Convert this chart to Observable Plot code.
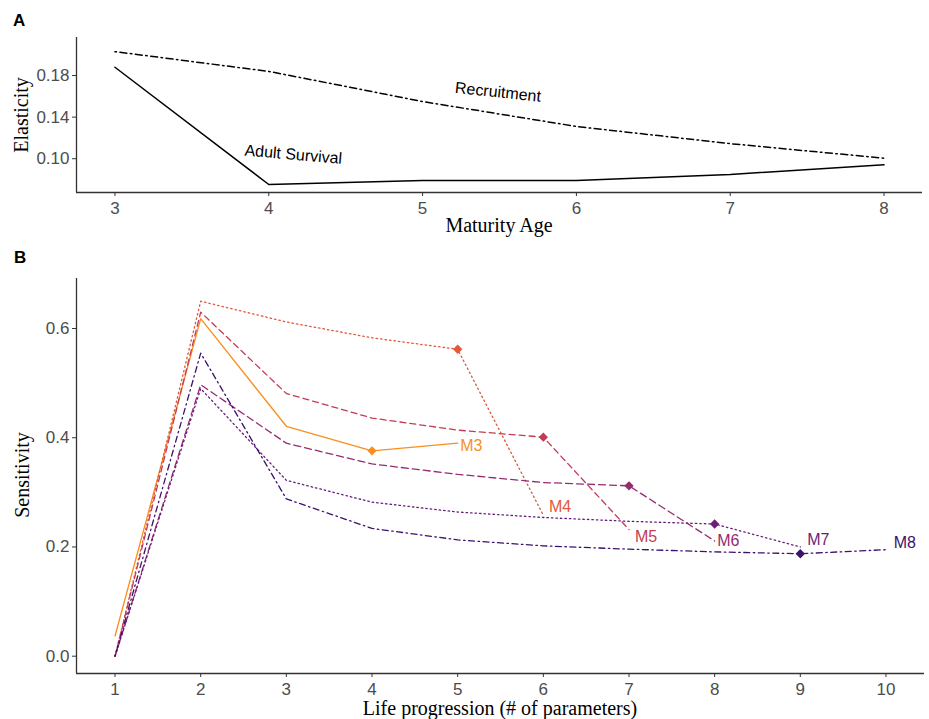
<!DOCTYPE html>
<html>
<head>
<meta charset="utf-8">
<script src="https://cdn.jsdelivr.net/npm/d3@7"></script>
<script src="https://cdn.jsdelivr.net/npm/@observablehq/plot@0.6"></script>
<style>
  html, body { margin: 0; padding: 0; background: #fff; }
  body { width: 929px; height: 719px; position: relative; overflow: hidden; }
  .panel { position: absolute; left: 0; }
  .tag { position: absolute; font-family: "Liberation Sans", Arial, sans-serif; font-weight: bold; font-size: 17px; line-height: 17px; color: #000; }
  .xt { position: absolute; font-family: "Liberation Serif", "Times New Roman", serif; font-size: 20px; line-height: 20px; color: #000; white-space: nowrap; transform: translateX(-50%); }
  .yt { position: absolute; font-family: "Liberation Serif", "Times New Roman", serif; font-size: 20px; line-height: 20px; color: #000; white-space: nowrap; transform: translate(-50%, -50%) rotate(-90deg); }
</style>
</head>
<body>
<div id="a" class="panel" style="top:0"></div>
<div id="b" class="panel" style="top:240px"></div>
<div class="tag" style="left:13px;top:12px">A</div>
<div class="tag" style="left:14px;top:249px">B</div>
<div class="xt" style="left:499px;top:215px">Maturity Age</div>
<div class="yt" style="left:21px;top:115px">Elasticity</div>
<div class="xt" style="left:500px;top:698px">Life progression (# of parameters)</div>
<div class="yt" style="left:22px;top:475px">Sensitivity</div>
<script>
// ---------- Panel A data ----------
const maturityAge = [3, 4, 5, 6, 7, 8];
const recruitment = [0.203, 0.184, 0.155, 0.131, 0.1145, 0.1005];
const adultSurvival = [0.188, 0.0752, 0.079, 0.079, 0.0849, 0.0942];
const panelALabels = ["Recruitment", "Adult Survival"];
const panelALabelX = [5.49, 4.16];
const panelALabelY = [0.164, 0.104];
const panelALabelAngle = [6, 5];
const elasticityTicks = [0.10, 0.14, 0.18];

// ---------- Panel B data ----------
const models = ["M3", "M4", "M5", "M6", "M7", "M8"];
const sensM3 = [0.037, 0.618, 0.421, 0.376, 0.390];
const sensM4 = [0.0, 0.650, 0.612, 0.583, 0.562, 0.258];
const sensM5 = [0.0, 0.630, 0.481, 0.436, 0.414, 0.401, 0.232];
const sensM6 = [0.0, 0.497, 0.390, 0.352, 0.333, 0.318, 0.312, 0.211];
const sensM7 = [0.0, 0.490, 0.322, 0.282, 0.264, 0.254, 0.247, 0.242, 0.200];
const sensM8 = [0.0, 0.555, 0.288, 0.234, 0.213, 0.202, 0.196, 0.191, 0.1876, 0.195];
const maturityStep = [4, 5, 6, 7, 8, 9];
const modelLabelX = [5.03, 6.065, 7.07, 8.03, 9.08, 10.09];
const modelLabelY = [0.385, 0.273, 0.219, 0.211, 0.213, 0.208];
const modelColors = ["#F98E1D", "#E3583A", "#C33C55", "#952C70", "#6A1E7C", "#3D116C"];
const modelDash = [null, "1.5 3", "6 4", "7 4", "1.5 3", "1.5 3.5 6 3.5"];
const progressionTicks = [1, 2, 3, 4, 5, 6, 7, 8, 9, 10];
const sensitivityTicks = [0.0, 0.2, 0.4, 0.6];

const sens = [sensM3, sensM4, sensM5, sensM6, sensM7, sensM8];

const axisStyle = {
  fontFamily: "'Liberation Sans', Arial, sans-serif",
  fontSize: "17px",
  color: "#4d4d4d",
  background: "#fff",
  overflow: "visible"
};
const tickFont = {fontSize: 17, fontFamily: "'Liberation Sans', Arial, sans-serif"};

// ---------- Panel A ----------
const recRows = maturityAge.map((x, i) => ({x, y: recruitment[i]}));
const surRows = maturityAge.map((x, i) => ({x, y: adultSurvival[i]}));
const aLab = panelALabels.map((t, i) => ({t, x: panelALabelX[i], y: panelALabelY[i], r: panelALabelAngle[i]}));
const yA = [0.0675, 0.2166];
const xA = [2.75, 8.25];

const plotA = Plot.plot({
  width: 929, height: 240,
  marginLeft: 76, marginRight: 7, marginTop: 37, marginBottom: 48,
  style: axisStyle,
  x: {domain: xA},
  y: {domain: yA},
  marks: [
    Plot.axisX({ticks: maturityAge, tickFormat: d3.format("d"), tickSize: 4, tickPadding: 5, label: null, stroke: "#333", ...tickFont}),
    Plot.axisY({ticks: elasticityTicks, tickFormat: d3.format(".2f"), tickSize: 4, tickPadding: 3, label: null, stroke: "#333", ...tickFont}),
    Plot.ruleX([xA[0]], {stroke: "#333", strokeWidth: 1.3}),
    Plot.ruleY([yA[0]], {stroke: "#333", strokeWidth: 1.3}),
    Plot.line(recRows, {x: "x", y: "y", stroke: "#000", strokeWidth: 1.5, strokeDasharray: "1.5 3.5 7 3.5"}),
    Plot.line(surRows, {x: "x", y: "y", stroke: "#000", strokeWidth: 1.5}),
    Plot.text(aLab, {x: "x", y: "y", text: "t", rotate: "r", fill: "#000", fontSize: 16, fontFamily: "'Liberation Sans', Arial, sans-serif"})
  ]
});
document.getElementById("a").appendChild(plotA);

// ---------- Panel B ----------
const rows = [];
models.forEach((m, k) => sens[k].forEach((v, i) => rows.push({model: m, x: i + 1, y: v})));
const diamonds = models.map((m, k) => ({model: m, k, x: maturityStep[k], y: sens[k][maturityStep[k] - 1]}));
const labs = models.map((m, k) => ({model: m, k, x: modelLabelX[k], y: modelLabelY[k]}));
const xB = [0.55, 10.45];
const yB = [-0.0317, 0.6916];

const lineMarks = models.map((m, k) =>
  Plot.line(rows.filter(r => r.model === m), {
    x: "x", y: "y", stroke: modelColors[k], strokeWidth: 1.3,
    strokeDasharray: modelDash[k] || undefined
  })
);

const plotB = Plot.plot({
  width: 929, height: 479,
  marginLeft: 76, marginRight: 5, marginTop: 38, marginBottom: 46,
  style: axisStyle,
  x: {domain: xB},
  y: {domain: yB},
  marks: [
    Plot.axisX({ticks: progressionTicks, tickFormat: d3.format("d"), tickSize: 4, tickPadding: 5, label: null, stroke: "#333", ...tickFont}),
    Plot.axisY({ticks: sensitivityTicks, tickFormat: d3.format(".1f"), tickSize: 4, tickPadding: 3, label: null, stroke: "#333", ...tickFont}),
    Plot.ruleX([xB[0]], {stroke: "#333", strokeWidth: 1.3}),
    Plot.ruleY([yB[0]], {stroke: "#333", strokeWidth: 1.3}),
    ...lineMarks,
    Plot.dot(diamonds, {x: "x", y: "y", symbol: "diamond2", r: 4.2, fill: d => modelColors[d.k], stroke: "none"}),
    Plot.text(labs, {x: "x", y: "y", text: "model", fill: d => modelColors[d.k], textAnchor: "start", fontSize: 16, fontFamily: "'Liberation Sans', Arial, sans-serif"})
  ]
});
document.getElementById("b").appendChild(plotB);
</script>
</body>
</html>
